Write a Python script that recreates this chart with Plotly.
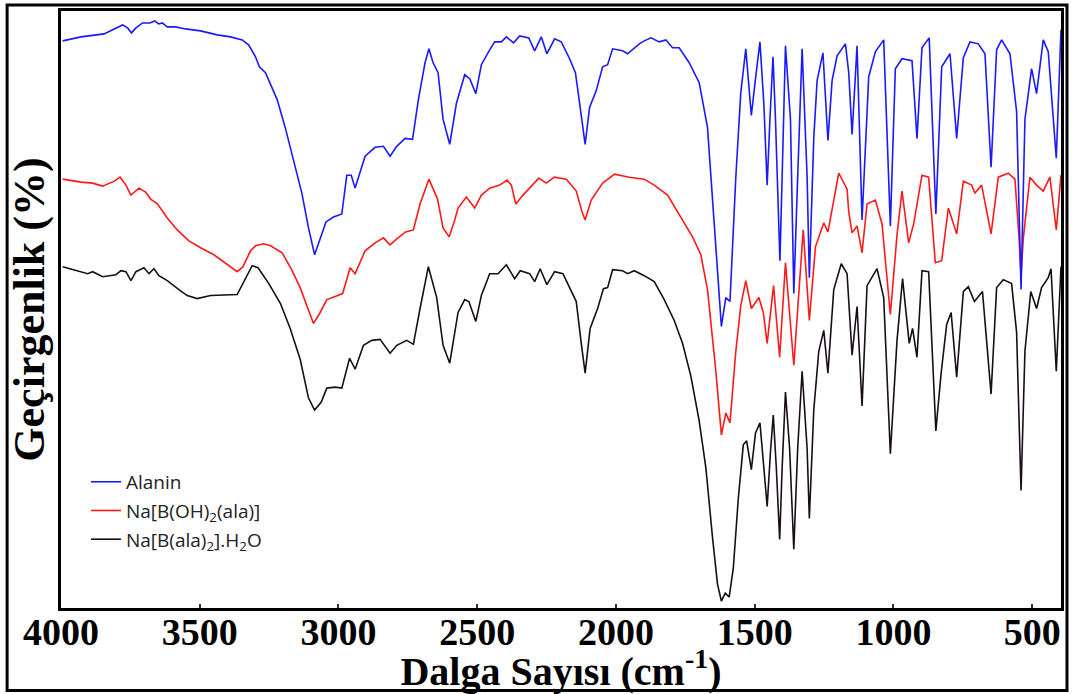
import plotly.graph_objects as go

# ---- Alanin (blue) ----
ala_wn = [3994, 3928, 3845, 3802, 3778, 3760, 3746, 3730, 3706, 3680, 3662, 3648, 3635, 3617, 3587, 3551,
          3497, 3437, 3389, 3347, 3324, 3299, 3285, 3263, 3221, 3192, 3163, 3132, 3108, 3086, 3066, 3045,
          3018, 2988, 2970, 2954, 2940, 2904, 2868, 2838, 2814, 2790, 2760, 2733, 2712, 2688, 2674, 2659,
          2641, 2623, 2599, 2575, 2545, 2527, 2505, 2485, 2455, 2437, 2413, 2395, 2369, 2347, 2314, 2293,
          2269, 2249, 2221, 2197, 2167, 2146, 2125, 2111, 2095, 2071, 2048, 2030, 2012, 1976, 1958, 1916,
          1898, 1874, 1844, 1820, 1796, 1772, 1736, 1700, 1670, 1646, 1620, 1604, 1589, 1568, 1550, 1532,
          1512, 1497, 1481, 1467, 1455, 1445, 1434, 1425, 1409, 1401, 1389, 1371, 1359, 1345, 1329, 1311,
          1303, 1287, 1275, 1254, 1236, 1221, 1203, 1173, 1161, 1149, 1131, 1113, 1089, 1065, 1035, 1011,
          993, 969, 933, 915, 897, 871, 847, 826, 796, 772, 748, 724, 694, 670, 648, 628, 610, 580, 556,
          540, 526, 502, 484, 460, 442, 413, 396]
ala_t = [570, 574, 577, 583, 586, 583, 578, 583, 588, 588, 590, 587, 588, 584, 584, 582,
         580, 576, 574, 571, 566, 554, 544, 538, 511, 483, 452, 417, 382, 355, 371, 388,
         393, 396, 435, 435, 422, 454, 463, 464, 454, 464, 472, 471, 511, 548, 562, 548,
         538, 491, 466, 507, 536, 532, 517, 546, 561, 569, 569, 574, 568, 575, 573, 560,
         574, 557, 572, 569, 552, 538, 495, 466, 503, 520, 544, 546, 562, 560, 557, 567,
         570, 573, 569, 571, 563, 563, 548, 528, 483, 382, 283, 312, 308, 433, 518, 562,
         495, 532, 569, 507, 425, 491, 554, 491, 349, 433, 565, 491, 316, 433, 562, 433,
         332, 472, 530, 558, 470, 530, 555, 567, 538, 476, 565, 390, 534, 559, 571, 384,
         542, 552, 550, 472, 563, 573, 396, 544, 557, 472, 553, 569, 567, 557, 443, 561, 571, 557, 499,
         320, 491, 542, 517, 571, 559, 452, 581]

# ---- Na[B(OH)2(ala)] (red) ----
boh_wn = [3994, 3928, 3886, 3850, 3808, 3787, 3766, 3748, 3719, 3695, 3677, 3652, 3617, 3581, 3539, 3497,
          3449, 3401, 3365, 3344, 3317, 3299, 3270, 3245, 3203, 3167, 3138, 3113, 3090, 3066, 3042, 3012,
          2985, 2958, 2940, 2904, 2868, 2838, 2814, 2790, 2758, 2730, 2706, 2674, 2643, 2623, 2601, 2581,
          2569, 2539, 2509, 2485, 2455, 2419, 2392, 2377, 2361, 2335, 2302, 2278, 2251, 2222, 2179, 2143,
          2122, 2111, 2089, 2048, 2005, 1952, 1898, 1862, 1814, 1772, 1724, 1694, 1670, 1640, 1620, 1604,
          1589, 1568, 1550, 1532, 1512, 1485, 1469, 1455, 1432, 1410, 1389, 1359, 1325, 1303, 1281, 1251,
          1236, 1197, 1167, 1161, 1149, 1131, 1113, 1095, 1065, 1041, 1011, 987, 969, 945, 927, 897, 873,
          849, 826, 802, 772, 748, 718, 706, 682, 648, 622, 586, 562, 547, 540, 532, 508, 484, 460, 436,
          413, 396]
boh_t = [431, 428, 427, 424, 429, 433, 425, 415, 422, 418, 411, 406, 392, 380, 369, 362,
         355, 345, 338, 343, 359, 364, 366, 364, 357, 339, 322, 303, 286, 297, 310, 313,
         316, 342, 336, 359, 367, 372, 365, 371, 378, 380, 406, 431, 411, 382, 373, 390,
         402, 413, 402, 415, 422, 425, 430, 425, 406, 415, 425, 432, 427, 433, 431, 419,
         398, 390, 410, 427, 436, 433, 431, 425, 415, 396, 373, 355, 320, 238, 174, 196,
         186, 258, 304, 329, 301, 312, 297, 266, 324, 252, 347, 244, 380, 289, 363, 387,
         378, 437, 421, 398, 377, 384, 357, 406, 410, 386, 295, 375, 419, 367, 386, 435, 433,
         347, 349, 402, 376, 429, 425, 417, 425, 376, 433, 437, 431, 371, 334, 371, 433, 425, 419, 433,
         380, 435]

# ---- Na[B(ala)2].H2O (black) ----
bala_wn = [3994, 3940, 3904, 3886, 3850, 3802, 3784, 3766, 3748, 3730, 3701, 3683, 3665, 3647, 3617, 3575,
           3545, 3509, 3461, 3365, 3344, 3311, 3290, 3251, 3209, 3174, 3138, 3108, 3086, 3062, 3042, 3012,
           2988, 2960, 2940, 2910, 2880, 2850, 2814, 2790, 2754, 2730, 2706, 2676, 2646, 2623, 2599, 2569,
           2545, 2530, 2505, 2485, 2455, 2425, 2395, 2365, 2345, 2311, 2293, 2273, 2249, 2221, 2191, 2165,
           2143, 2125, 2111, 2093, 2066, 2045, 2030, 2012, 1976, 1958, 1934, 1898, 1862, 1826, 1790, 1760,
           1730, 1700, 1676, 1652, 1634, 1620, 1606, 1592, 1577, 1559, 1541, 1529, 1512, 1497, 1481, 1467,
           1455, 1443, 1433, 1422, 1410, 1401, 1389, 1374, 1359, 1345, 1329, 1311, 1303, 1287, 1269, 1251,
           1236, 1215, 1188, 1167, 1161, 1149, 1131, 1113, 1095, 1071, 1059, 1035, 1011, 987, 967, 943,
           931, 915, 897, 873, 847, 828, 808, 792, 772, 748, 730, 708, 679, 648, 628, 604, 574, 556, 540,
           526, 505, 484, 466, 442, 432, 413, 396]
bala_t = [343, 339, 336, 338, 333, 335, 339, 338, 329, 338, 342, 336, 341, 334, 329, 320,
          314, 311, 314, 315, 326, 344, 342, 326, 306, 281, 250, 211, 199, 207, 221, 222,
          221, 251, 240, 264, 269, 270, 256, 264, 269, 265, 301, 343, 312, 264, 246, 297,
          310, 308, 288, 314, 336, 336, 345, 331, 339, 336, 328, 341, 325, 338, 336, 320,
          308, 266, 236, 281, 301, 321, 322, 340, 339, 336, 339, 334, 328, 310, 289, 266,
          233, 188, 141, 71, 24, 7, 15, 11, 40, 110, 164, 168, 139, 176, 186, 141,
          102, 157, 194, 141, 69, 141, 217, 160, 59, 160, 238, 160, 90, 199, 258, 279,
          236, 320, 346, 336, 304, 254, 303, 203, 324, 336, 341, 312, 155, 269, 331, 266,
          281, 252, 339, 338, 178, 236, 285, 297, 232, 318, 323, 308, 318, 215, 322, 330, 326, 277, 118,
          258, 318, 301, 322, 332, 341, 238, 343]

x_ticks = [4000, 3500, 3000, 2500, 2000, 1500, 1000, 500]
x_tick_labels = ["4000", "3500", "3000", "2500", "2000", "1500", "1000", "500"]

SERIF = "Liberation Serif, Times New Roman, serif"

fig = go.Figure()
fig.add_trace(go.Scatter(x=bala_wn, y=bala_t, mode="lines", name="Na[B(ala)<sub>2</sub>].H<sub>2</sub>O",
                         line=dict(color="#1a0d1a", width=1.6), legendrank=3, legendgroup="c"))
fig.add_trace(go.Scatter(x=boh_wn, y=boh_t, mode="lines", name="Na[B(OH)<sub>2</sub>(ala)]",
                         line=dict(color="#ff1a1a", width=1.6), legendrank=2, legendgroup="b"))
fig.add_trace(go.Scatter(x=ala_wn, y=ala_t, mode="lines", name="Alanin",
                         line=dict(color="#1a1aff", width=1.6), legendrank=1, legendgroup="a"))

fig.update_layout(
    width=1072, height=694,
    margin=dict(l=61, r=9, t=8, b=86),
    font=dict(family=SERIF, color="black"),
    paper_bgcolor="white", plot_bgcolor="white",
    showlegend=True,
    legend=dict(x=0.025, y=0.243, xanchor="left", yanchor="top",
                font=dict(family="Open Sans", size=19, color="#222"),
                bgcolor="rgba(0,0,0,0)", tracegroupgap=1, itemwidth=30),
    xaxis=dict(range=[4000, 396], tickvals=x_ticks, ticktext=x_tick_labels,
               showgrid=False, zeroline=False, showline=True, linecolor="black", linewidth=3,
               mirror=True, ticks="inside", ticklen=4, tickwidth=2, tickcolor="#333",
               ticklabelstandoff=-12,
               tickfont=dict(family=SERIF, size=38, color="black", weight="bold"),
               title=dict(text="Dalga Sayısı (cm<sup>-1</sup>)",
                          font=dict(family=SERIF, size=40, color="black", weight="bold"), standoff=0)),
    yaxis=dict(range=[0, 600], showticklabels=False, ticks="", showgrid=False, zeroline=False,
               showline=True, linecolor="black", linewidth=3, mirror=True,
               title=dict(text="Geçirgenlik (%)",
                          font=dict(family=SERIF, size=44, color="black", weight="bold"), standoff=0)),
    shapes=[dict(type="rect", xref="paper", yref="paper",
                 x0=(7 - 61) / 1002, x1=(1069 - 61) / 1002,
                 y0=(608 - 691) / 600, y1=(608 - 2) / 600,
                 line=dict(color="black", width=3), fillcolor="rgba(0,0,0,0)", layer="below")],
)

fig.write_html("out.html")
